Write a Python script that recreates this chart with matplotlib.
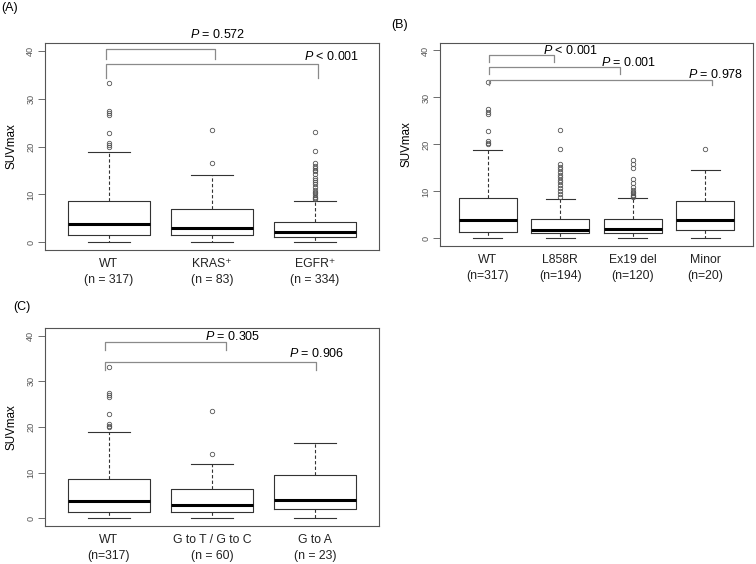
import matplotlib
matplotlib.use("Agg")
import matplotlib.pyplot as plt

plt.rcParams["font.family"] = ["Liberation Sans", "DejaVu Sans"]
plt.rcParams["mathtext.fontset"] = "custom"
plt.rcParams["mathtext.rm"] = "Liberation Sans"
plt.rcParams["mathtext.it"] = "Liberation Sans:italic"

# ---- box statistics (SUVmax) ----
# each list: [whisker_low, Q1, median, Q3, whisker_high]
wt_stats = [0.0, 1.45, 3.9, 8.6, 18.9]
wt_fliers = [33.2, 27.5, 26.9, 26.5, 22.9, 20.7, 20.3, 20.0]

kras_stats = [0.0, 1.6, 3.0, 7.0, 14.0]
kras_fliers = [23.5, 16.5]

egfr_stats = [0.0, 1.2, 2.1, 4.2, 8.7]
egfr_fliers = [23.0, 19.0, 16.5, 16.0, 15.5, 15.2, 14.8, 14.3, 13.5, 13.0,
               12.5, 12.1, 11.5, 11.0, 10.5, 10.2, 9.8, 9.5, 9.2, 9.0]

l858r_stats = [0.0, 1.15, 1.85, 4.05, 8.35]
l858r_fliers = [23.0, 19.0, 15.8, 15.2, 14.7, 14.2, 13.5, 13.0, 12.5, 12.0,
                11.3, 10.8, 10.2, 9.5, 8.9]

ex19_stats = [0.0, 1.1, 2.0, 4.1, 8.65]
ex19_fliers = [16.6, 15.8, 14.9, 12.6, 11.9, 11.0, 10.3, 9.9, 9.6, 9.3, 9.0, 8.8]

minor_stats = [0.0, 1.9, 3.9, 7.9, 14.5]
minor_fliers = [19.0]

gtc_stats = [0.0, 1.5, 2.95, 6.45, 12.0]
gtc_fliers = [23.4, 14.0]

gta_stats = [0.0, 2.0, 4.05, 9.5, 16.5]
gta_fliers = []

labels_a = ["WT\n(n = 317)", "KRAS\u207a\n(n = 83)", "EGFR\u207a\n(n = 334)"]
labels_b = ["WT\n(n=317)", "L858R\n(n=194)", "Ex19 del\n(n=120)", "Minor\n(n=20)"]
labels_c = ["WT\n(n=317)", "G to T / G to C\n(n = 60)", "G to A\n(n = 23)"]

# brackets: (x_left, x_right, y_top, y_drop)
brackets_a = [(0.97, 2.03, 40.4, 38.2), (0.97, 3.03, 37.3, 34.2)]
ptext_a = [(2.05, 43.3, "$P$ = 0.572"), (3.16, 38.7, "$P$ < 0.001")]

brackets_b = [(1.02, 1.92, 39.0, 37.5), (1.02, 2.82, 36.4, 34.9), (1.02, 4.10, 33.8, 32.6)]
ptext_b = [(2.14, 40.1, "$P$ < 0.001"), (2.95, 37.4, "$P$ = 0.001"), (4.15, 34.9, "$P$ = 0.978")]

brackets_c = [(0.96, 2.14, 38.7, 36.8), (0.96, 3.01, 34.3, 32.4)]
ptext_c = [(2.20, 39.8, "$P$ = 0.305"), (3.02, 36.1, "$P$ = 0.906")]

BOX_COL = "#333333"
GRAY = "#8a8a8a"


def make_stats(stat_list, flier_list):
    out = []
    for s, f in zip(stat_list, flier_list):
        out.append({"whislo": s[0], "q1": s[1], "med": s[2], "q3": s[3],
                    "whishi": s[4], "fliers": f})
    return out


def draw_panel(ax, stats, labels, brackets, ptexts, tag, tag_xy):
    n = len(stats)
    ax.bxp(stats, positions=range(1, n + 1), widths=0.8, capwidths=0.4,
           showfliers=True, patch_artist=False,
           boxprops=dict(color=BOX_COL, linewidth=0.8),
           whiskerprops=dict(color=BOX_COL, linewidth=0.8, linestyle=(0, (3, 2))),
           capprops=dict(color=BOX_COL, linewidth=0.8),
           medianprops=dict(color="black", linewidth=2.2, solid_capstyle="butt"),
           flierprops=dict(marker="o", markersize=3.2, markerfacecolor="none",
                           markeredgecolor="#555555", markeredgewidth=0.6))
    ax.set_xlim(0.5 - 0.04 * n, n + 0.5 + 0.04 * n)
    ax.set_ylim(-1.6, 41.6)
    ax.set_yticks([0, 10, 20, 30, 40])
    ax.set_xticks(range(1, n + 1))
    ax.set_xticklabels(labels, fontsize=8.8, linespacing=1.45)
    for lab in ax.get_yticklabels():
        lab.set_rotation(90)
        lab.set_va("center")
    ax.tick_params(axis="y", labelsize=6.6, labelcolor="#555555", color="#555555",
                   length=5, width=0.6, pad=2)
    ax.tick_params(axis="x", length=0, pad=6, labelcolor="#222222")
    ax.set_ylabel("SUVmax", fontsize=8.4, labelpad=6)
    for sp in ax.spines.values():
        sp.set_color("#555555")
        sp.set_linewidth(0.8)

    for x1, x2, yt, yd in brackets:
        ax.plot([x1, x1, x2, x2], [yd, yt, yt, yd], color=GRAY, linewidth=0.9,
                clip_on=False)
    for x, y, t in ptexts:
        ax.text(x, y, t, ha="center", va="center", fontsize=9, clip_on=False)

    fig.text(tag_xy[0], tag_xy[1], tag, fontsize=9, ha="left", va="center")


fig = plt.figure(figsize=(7.56, 5.64), dpi=100)

ax_a = fig.add_axes([0.0595, 0.5567, 0.4418, 0.367])
ax_b = fig.add_axes([0.582, 0.5638, 0.414, 0.360])
ax_c = fig.add_axes([0.0595, 0.0679, 0.4418, 0.350])

draw_panel(ax_a,
           make_stats([wt_stats, kras_stats, egfr_stats],
                      [wt_fliers, kras_fliers, egfr_fliers]),
           labels_a, brackets_a, ptext_a, "(A)", (0.002, 0.986))
draw_panel(ax_b,
           make_stats([wt_stats, l858r_stats, ex19_stats, minor_stats],
                      [wt_fliers, l858r_fliers, ex19_fliers, minor_fliers]),
           labels_b, brackets_b, ptext_b, "(B)", (0.517, 0.956))
draw_panel(ax_c,
           make_stats([wt_stats, gtc_stats, gta_stats],
                      [wt_fliers, gtc_fliers, gta_fliers]),
           labels_c, brackets_c, ptext_c, "(C)", (0.017, 0.456))

fig.savefig("out.png", dpi=100, facecolor="white")
